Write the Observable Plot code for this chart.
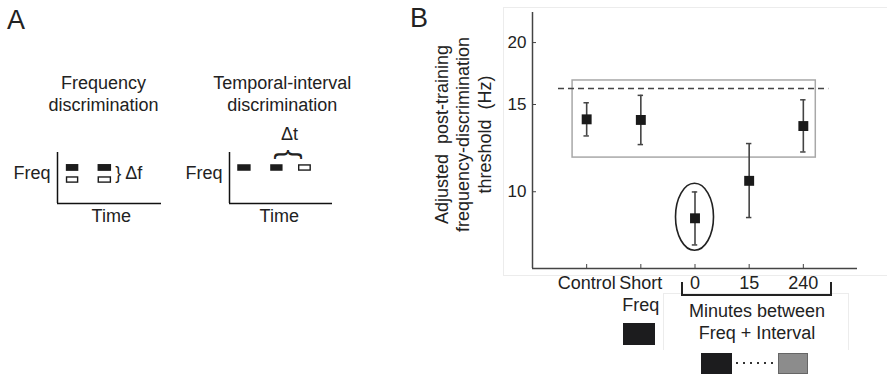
<!DOCTYPE html>
<html>
<head>
<meta charset="utf-8">
<script src="https://cdn.jsdelivr.net/npm/d3@7"></script>
<script src="https://cdn.jsdelivr.net/npm/@observablehq/plot@0.6"></script>
<style>
  html, body { margin: 0; padding: 0; background: #fff; overflow: hidden; }
  #stage { position: relative; width: 887px; height: 375px; font-family: "Liberation Sans", Arial, sans-serif; color: #222; }
  .abs { position: absolute; }
  .panel { font-size: 27px; line-height: 27px; }
  svg text { white-space: pre; }
  .faint { border: 1px solid #ececec; box-sizing: border-box; }
</style>
</head>
<body>
<div id="stage"></div>
<script>
// ---------- Panel A schematic data (arbitrary time / frequency units) ----------
const taskTitles = ["Frequency\ndiscrimination", "Temporal-interval\ndiscrimination"];
const freqTaskTones = [
  {t0: 0.85, t1: 2.05, f0: 3.15, f1: 3.82, kind: "standard"},
  {t0: 0.85, t1: 2.05, f0: 1.98, f1: 2.62, kind: "comparison"},
  {t0: 3.9,  t1: 5.2,  f0: 3.15, f1: 3.82, kind: "standard"},
  {t0: 3.9,  t1: 5.2,  f0: 1.98, f1: 2.62, kind: "comparison"}
];
const intervalTaskTones = [
  {t0: 0.8, t1: 2.1,  f0: 3.16, f1: 3.8, kind: "standard"},
  {t0: 4.0, t1: 5.2,  f0: 3.16, f1: 3.8, kind: "standard"},
  {t0: 6.7, t1: 7.95, f0: 3.16, f1: 3.8, kind: "comparison"}
];

// ---------- Panel B data ----------
const categories = ["Control", "Short\nFreq", "0", "15", "240"];
const positions = [1, 2, 3, 4, 5];
const means = [14.0, 13.96, 8.84, 10.52, 13.57];
const upper = [15.12, 15.65, 9.99, 12.51, 15.33];
const lower = [12.96, 12.45, 7.81, 8.87, 12.03];
const yTicks = [10, 15, 20];
const xDomain = [0, 6];
const yDomain = [7, 23];
const baselineLevel = [16.16];          // dashed reference threshold
const baselineSpan = [0.48, 5.47];
const referenceBox = [{x1: 0.74, x2: 5.23, y1: 11.72, y2: 16.77}];
const highlighted = [{pos: 3, value: 8.88}];
const yLabel = "Adjusted  post-training\nfrequency-discrimination\nthreshold  (Hz)";

const rows = positions.map((p, i) => ({pos: p, label: categories[i], mean: means[i], hi: upper[i], lo: lower[i]}));

const stage = document.getElementById("stage");
const FONT = "Liberation Sans, Arial, sans-serif";
const INK = "#222";

function place(el, left, top) {
  el.style.position = "absolute";
  el.style.left = left + "px";
  el.style.top = top + "px";
  stage.appendChild(el);
}

// ---------- Panel A: two schematic plots ----------
function schematic(tones, title, titleX, timeX, extra, marginLeft, marginRight) {
  return Plot.plot({
    width: 200, height: 180,
    marginLeft, marginRight, marginTop: 92, marginBottom: 37,
    style: {fontFamily: FONT, fontSize: "18px", color: INK, background: "transparent", overflow: "visible"},
    x: {domain: [0, 10], axis: null},
    y: {domain: [0, 5], axis: null},
    marks: [
      Plot.ruleX([0], {stroke: "#111", strokeWidth: 1.5}),
      Plot.ruleY([0], {stroke: "#111", strokeWidth: 1.5}),
      Plot.rect(tones.filter(d => d.kind === "standard"), {x1: "t0", x2: "t1", y1: "f0", y2: "f1", fill: "#1c1c1c"}),
      Plot.rect(tones.filter(d => d.kind === "comparison"), {x1: "t0", x2: "t1", y1: "f0", y2: "f1", fill: "#fff", stroke: "#1c1c1c", strokeWidth: 1.4, inset: 0.7}),
      Plot.text([title], {text: d => d, x: titleX, frameAnchor: "top", lineAnchor: "top", lineHeight: 1.17, dy: -78, fill: INK, fontSize: 18}),
      Plot.text(["Freq"], {text: d => d, frameAnchor: "left", y: 2.92, textAnchor: "end", dx: -7, fill: INK, fontSize: 18}),
      Plot.text(["Time"], {text: d => d, x: timeX, frameAnchor: "bottom", lineAnchor: "top", dy: 6, fill: INK, fontSize: 18}),
      ...extra
    ]
  });
}

const a1 = schematic(freqTaskTones, taskTitles[0], 4.42, 5.17, [
  Plot.text(["} Δf"], {text: d => d, x: 5.55, y: 2.92, textAnchor: "start", fill: INK, fontSize: 18})
], 57, 39);
place(a1, 0, 60);

const a2 = schematic(intervalTaskTones, taskTitles[1], 5.12, 4.83, [
  Plot.text(["Δt"], {text: d => d, x: 5.83, frameAnchor: "top", lineAnchor: "top", dy: -25, fill: INK, fontSize: 18}),
  Plot.text(["{"], {text: d => d, x: 5.83, y: 4.8, rotate: 90, fontSize: 30, fill: INK})
], 59, 38);
place(a2, 170, 60);

// ---------- Panel B: the chart ----------
const b = Plot.plot({
  width: 467, height: 375,
  marginLeft: 112, marginRight: 30, marginTop: 12, marginBottom: 107,
  style: {fontFamily: FONT, color: INK, background: "transparent", overflow: "visible"},
  x: {domain: xDomain},
  y: {type: "log", domain: yDomain},
  marks: [
    Plot.rect(referenceBox, {x1: "x1", x2: "x2", y1: "y1", y2: "y2", fill: "none", stroke: "#a8a8a8", strokeWidth: 1.5}),
    Plot.ruleY(baselineLevel, {y: d => d, x1: baselineSpan[0], x2: baselineSpan[1], stroke: "#444", strokeWidth: 1.5, strokeDasharray: "6,4"}),
    Plot.ruleX(rows, {x: "pos", y1: "lo", y2: "hi", stroke: "#444", strokeWidth: 1.6}),
    Plot.ruleY(rows, {y: "hi", x1: d => d.pos - 0.05, x2: d => d.pos + 0.05, stroke: "#444", strokeWidth: 1.5}),
    Plot.ruleY(rows, {y: "lo", x1: d => d.pos - 0.05, x2: d => d.pos + 0.05, stroke: "#444", strokeWidth: 1.5}),
    Plot.dot(rows, {x: "pos", y: "mean", symbol: "square", r: 5.6, fill: "#1a1a1a", stroke: "none"}),
    (index, scales) => {
      const g = d3.create("svg:g");
      for (const e of highlighted) {
        g.append("ellipse")
          .attr("cx", scales.x(e.pos)).attr("cy", scales.y(e.value))
          .attr("rx", 19).attr("ry", 33.5)
          .attr("fill", "none").attr("stroke", "#222").attr("stroke-width", 1.6);
      }
      return g.node();
    },
    Plot.ruleX([xDomain[0]], {stroke: "#444", strokeWidth: 1.5}),
    Plot.ruleY([yDomain[0]], {stroke: "#444", strokeWidth: 1.5}),
    Plot.axisY({ticks: yTicks, tickFormat: d => String(d), tickSize: -4, tickPadding: 10, fontSize: 17, stroke: "#444", fill: INK}),
    Plot.axisX({ticks: positions, tickFormat: d => categories[d - 1], tickSize: -4, tickPadding: 10, fontSize: 18, lineHeight: 1.17, stroke: "#444", fill: INK}),
    Plot.text([yLabel], {text: d => d, frameAnchor: "left", rotate: -90, textAnchor: "middle", dx: -70, dy: -6, lineAnchor: "middle", lineHeight: 1.2, fontSize: 18, fill: INK})
  ]
});
place(b, 420, 0);

// ---------- Overlays: panel letters, faint frames, bracket, legend swatches ----------
function div(cls, left, top, styles, text) {
  const d = document.createElement("div");
  d.className = "abs " + (cls || "");
  Object.assign(d.style, {left: left + "px", top: top + "px"}, styles || {});
  if (text != null) d.textContent = text;
  stage.appendChild(d);
  return d;
}
div("faint", 503, 7, {width: "400px", height: "269px"});
div("", 663, 293, {width: "186px", height: "57px", borderTop: "1px solid #ececec", borderLeft: "1px solid #ececec", borderRight: "1px solid #ececec", boxSizing: "border-box"});
div("panel", 7, 7, {}, "A");
div("panel", 410, 5, {}, "B");
// bracket under the interval conditions
div("", 680.5, 282, {width: "151px", height: "14px", borderLeft: "2.5px solid #222", borderRight: "2.5px solid #222", borderBottom: "2.5px solid #222", boxSizing: "border-box"});
div("", 656, 299.5, {width: "202px", textAlign: "center", fontSize: "18px", lineHeight: "22px", color: INK}, "Minutes between\nFreq + Interval").style.whiteSpace = "pre";
// legend swatches
div("", 622.7, 323, {width: "32.5px", height: "22px", background: "#1c1c1e"});
div("", 701, 352.7, {width: "31px", height: "21px", background: "#1c1c1e"});
div("", 736, 362, {width: "40px", height: "2px", background: "repeating-linear-gradient(to right, #333 0 2px, transparent 2px 7px)"});
div("", 778.3, 352.7, {width: "30px", height: "21px", background: "#8c8c8c", border: "1.5px solid #666", boxSizing: "border-box"});
</script>
</body>
</html>
